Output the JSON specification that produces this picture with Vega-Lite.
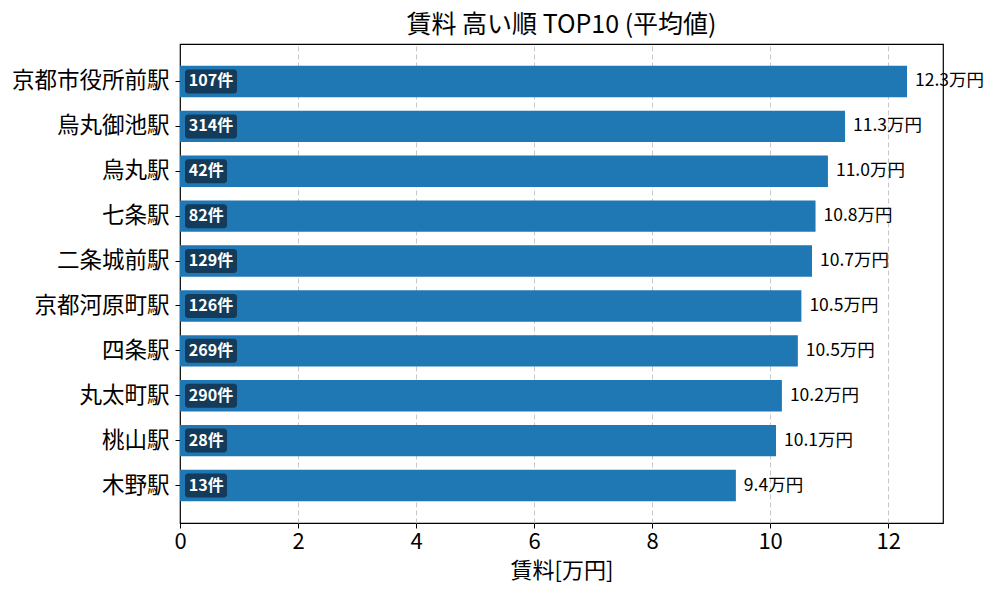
{
  "$schema": "https://vega.github.io/schema/vega-lite/v6.json",
  "autosize": "none",
  "width": 763,
  "height": 479,
  "padding": {"left": 180, "top": 44, "right": 57, "bottom": 77},
  "background": "white",
  "config": {
    "font": "Noto Sans CJK JP",
    "view": {"stroke": "black", "strokeWidth": 1.2},
    "axis": {
      "labelColor": "black",
      "titleColor": "black",
      "domain": false,
      "tickColor": "black",
      "titleFontWeight": "normal"
    }
  },
  "title": {
    "text": "賃料 高い順 TOP10 (平均値)",
    "fontSize": 25,
    "fontWeight": "normal",
    "anchor": "middle",
    "offset": 6,
    "color": "black"
  },
  "data": {
    "values": [
      {"station": "京都市役所前駅", "rent": 12.32, "count": 107},
      {"station": "烏丸御池駅", "rent": 11.27, "count": 314},
      {"station": "烏丸駅", "rent": 10.98, "count": 42},
      {"station": "七条駅", "rent": 10.77, "count": 82},
      {"station": "二条城前駅", "rent": 10.71, "count": 129},
      {"station": "京都河原町駅", "rent": 10.53, "count": 126},
      {"station": "四条駅", "rent": 10.47, "count": 269},
      {"station": "丸太町駅", "rent": 10.2, "count": 290},
      {"station": "桃山駅", "rent": 10.1, "count": 28},
      {"station": "木野駅", "rent": 9.42, "count": 13}
    ]
  },
  "transform": [
    {"calculate": "format(datum.rent, '.1f') + '万円'", "as": "rentLabel"},
    {"calculate": "datum.count + '件'", "as": "countLabel"},
    {"calculate": "0.085", "as": "boxStart"},
    {"calculate": "0.085 + (length(datum.countLabel) * 10 + 12) / 59", "as": "boxEnd"},
    {"calculate": "0.15", "as": "textStart"}
  ],
  "encoding": {
    "y": {
      "field": "station",
      "type": "nominal",
      "sort": null,
      "title": null,
      "scale": {"paddingInner": 0.3, "paddingOuter": 0.485},
      "axis": {"labelFontSize": 22.5, "tickSize": 5, "labelPadding": 6}
    }
  },
  "layer": [
    {
      "mark": {"type": "bar", "color": "#1f77b4"},
      "encoding": {
        "x": {
          "field": "rent",
          "type": "quantitative",
          "title": "賃料[万円]",
          "scale": {"domain": [0, 12.93], "nice": false, "zero": true},
          "axis": {
            "values": [0, 2, 4, 6, 8, 10, 12],
            "format": "d",
            "labelFontSize": 22,
            "titleFontSize": 22,
            "tickSize": 5,
            "labelPadding": 3,
            "titlePadding": 8,
            "grid": true,
            "gridDash": [5, 3],
            "gridColor": "#c8c8c8",
            "gridOpacity": {"condition": {"test": "datum.value === 0", "value": 0}, "value": 1},
            "labelFlush": false
          }
        }
      }
    },
    {
      "mark": {"type": "text", "align": "left", "baseline": "middle", "dx": 8, "fontSize": 17.5, "color": "black"},
      "encoding": {
        "x": {"field": "rent", "type": "quantitative"},
        "text": {"field": "rentLabel"}
      }
    },
    {
      "mark": {"type": "bar", "color": "#143b59", "cornerRadius": 3, "height": 24},
      "encoding": {
        "x": {"field": "boxStart", "type": "quantitative"},
        "x2": {"field": "boxEnd"}
      }
    },
    {
      "mark": {"type": "text", "align": "left", "baseline": "middle", "fontSize": 16, "fontWeight": "bold", "color": "white"},
      "encoding": {
        "x": {"field": "textStart", "type": "quantitative"},
        "text": {"field": "countLabel"}
      }
    }
  ]
}
